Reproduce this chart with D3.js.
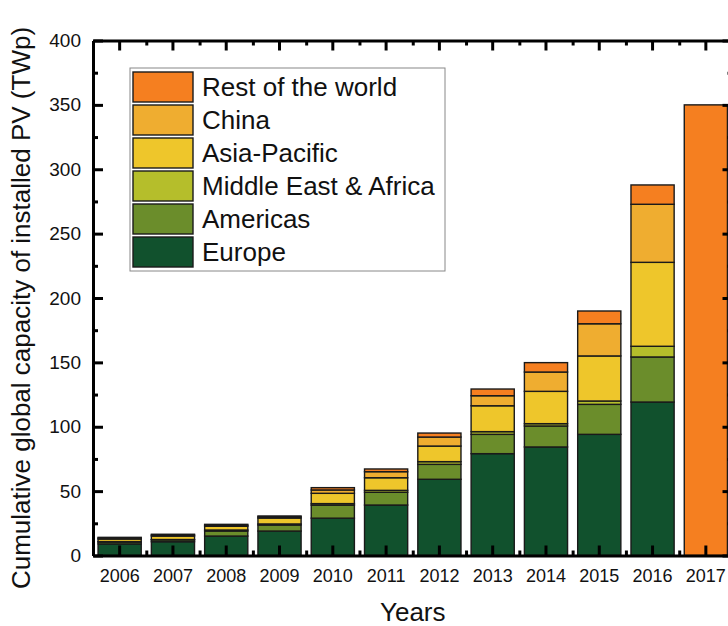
<!DOCTYPE html>
<html><head><meta charset="utf-8">
<script src="https://cdn.jsdelivr.net/npm/d3@7"></script>
<style>
html,body{margin:0;padding:0;background:#fff;overflow:hidden;}
text{font-family:"Liberation Sans",Arial,sans-serif;fill:#111;}
</style></head><body>
<svg id="chart" width="728" height="626"></svg>
<script>
const years = ["2006","2007","2008","2009","2010","2011","2012","2013","2014","2015","2016","2017"];
const europe   = [9.0, 10.7, 15.1, 19.0, 29.0, 39.2, 59.2, 79.1, 84.3, 94.1, 119.2, 0];
const americas = [1.5, 1.5, 3.9, 4.7, 10.1, 9.9, 11.6, 15.0, 16.3, 23.3, 35.0, 0];
const mea      = [0.3, 0.2, 0.8, 0.8, 1.2, 1.5, 2.1, 2.1, 1.8, 2.6, 8.3, 0];
const apac     = [2.0, 2.7, 2.9, 4.6, 8.0, 9.8, 12.1, 20.1, 25.1, 35.0, 65.2, 0];
const china    = [0.7, 0.8, 0.8, 0.9, 2.6, 4.7, 7.0, 7.8, 15.0, 25.0, 45.1, 0];
const rest     = [0.6, 0.6, 0.7, 0.7, 1.8, 2.1, 3.1, 5.2, 7.3, 9.9, 15.0, 350];
const seriesNames = ["Europe","Americas","Middle East & Africa","Asia-Pacific","China","Rest of the world"];
const seriesColors = ["#11512d","#6b8d2b","#b5be2b","#eec62b","#efad30","#f57f20"];
const yTicks = [0,50,100,150,200,250,300,350,400];
const yMinorTicks = [25,75,125,175,225,275,325,375];
const xTitle = "Years";
const yTitle = "Cumulative global capacity of installed PV (TWp)";

const seriesArrays = [europe, americas, mea, apac, china, rest];
const keys = seriesNames;
const table = years.map((yr, i) => {
  const row = {year: yr};
  keys.forEach((k, j) => row[k] = seriesArrays[j][i]);
  return row;
});
const stacked = d3.stack().keys(keys)(table);

const svg = d3.select("#chart");
const mLeft = 93, mRight = 732.5, mTop = 40.5, mBottom = 555.5;

const x = d3.scaleBand().domain(years).range([mLeft, mRight]).paddingInner(0.19).paddingOuter(0.095);
const xi = d3.scaleLinear().domain([0, years.length]).range([mLeft, mRight]);
const y = d3.scaleLinear().domain([0, 400]).range([mBottom, mTop]);
const color = d3.scaleOrdinal().domain(keys).range(seriesColors);

// bars
svg.append("g").selectAll("g").data(stacked).join("g")
  .attr("fill", d => color(d.key))
  .selectAll("rect").data(d => d.filter(s => s[1] - s[0] > 0)).join("rect")
  .attr("x", d => x(d.data.year))
  .attr("width", x.bandwidth())
  .attr("y", d => y(d[1]))
  .attr("height", d => y(d[0]) - y(d[1]))
  .attr("stroke", "#1a1a1a")
  .attr("stroke-width", 1.4);

// axes
function styleAxis(g, width) {
  g.selectAll(".domain").attr("stroke", "#000").attr("stroke-width", 3);
  g.selectAll(".tick line").attr("stroke", "#000").style("stroke-width", width + "px");
}
const minorIdx = d3.range(1, years.length);

// bottom
const gb = svg.append("g").attr("transform", `translate(0,${mBottom})`)
  .call(d3.axisBottom(x).tickSizeInner(-10).tickSizeOuter(0).tickPadding(14));
gb.selectAll("text").attr("font-size", 18);
styleAxis(gb, 3);
const gbm = svg.append("g").attr("transform", `translate(0,${mBottom})`)
  .call(d3.axisBottom(xi).tickValues(minorIdx).tickFormat("").tickSizeInner(-5).tickSizeOuter(0));
gbm.select(".domain").remove(); styleAxis(gbm, 3);

// top
const gt = svg.append("g").attr("transform", `translate(0,${mTop})`)
  .call(d3.axisTop(x).tickSizeInner(-10).tickSizeOuter(0).tickFormat(""));
styleAxis(gt, 3);
const gtm = svg.append("g").attr("transform", `translate(0,${mTop})`)
  .call(d3.axisTop(xi).tickValues(minorIdx).tickFormat("").tickSizeInner(-5).tickSizeOuter(0));
gtm.select(".domain").remove(); styleAxis(gtm, 3);

// left
const gl = svg.append("g").attr("transform", `translate(${mLeft},0)`)
  .call(d3.axisLeft(y).tickValues(yTicks).tickSizeInner(-10).tickSizeOuter(0).tickPadding(12));
gl.selectAll("text").attr("font-size", 19);
styleAxis(gl, 3);
const glm = svg.append("g").attr("transform", `translate(${mLeft},0)`)
  .call(d3.axisLeft(y).tickValues(yMinorTicks).tickFormat("").tickSizeInner(-5).tickSizeOuter(0));
glm.select(".domain").remove(); styleAxis(glm, 3);

// right
const gr = svg.append("g").attr("transform", `translate(${mRight},0)`)
  .call(d3.axisRight(y).tickValues(yTicks).tickSizeInner(-10).tickSizeOuter(0).tickFormat(""));
styleAxis(gr, 3);
const grm = svg.append("g").attr("transform", `translate(${mRight},0)`)
  .call(d3.axisRight(y).tickValues(yMinorTicks).tickFormat("").tickSizeInner(-5).tickSizeOuter(0));
grm.select(".domain").remove(); styleAxis(grm, 3);

// titles
svg.append("text").attr("x", (mLeft + mRight) / 2).attr("y", 621)
  .attr("text-anchor", "middle").attr("font-size", 26).text(xTitle);
svg.append("text").attr("transform", `translate(30,${(mBottom + mTop) / 2 + 10}) rotate(-90)`)
  .attr("text-anchor", "middle").attr("font-size", 26).text(yTitle);

// legend
const legend = svg.append("g").attr("transform", "translate(130,68)");
legend.append("rect").attr("width", 315).attr("height", 203)
  .attr("fill", "#fff").attr("stroke", "#888").attr("stroke-width", 1);
const legendKeys = keys.slice().reverse();
const li = legend.selectAll("g.item").data(legendKeys).join("g").attr("class", "item")
  .attr("transform", (d, i) => `translate(3,${4 + i * 33})`);
li.append("rect").attr("width", 60).attr("height", 30)
  .attr("fill", d => color(d)).attr("stroke", "#1a1a1a").attr("stroke-width", 1.4);
li.append("text").attr("x", 69).attr("y", 24).attr("font-size", 26).text(d => d);
</script>
</body></html>
